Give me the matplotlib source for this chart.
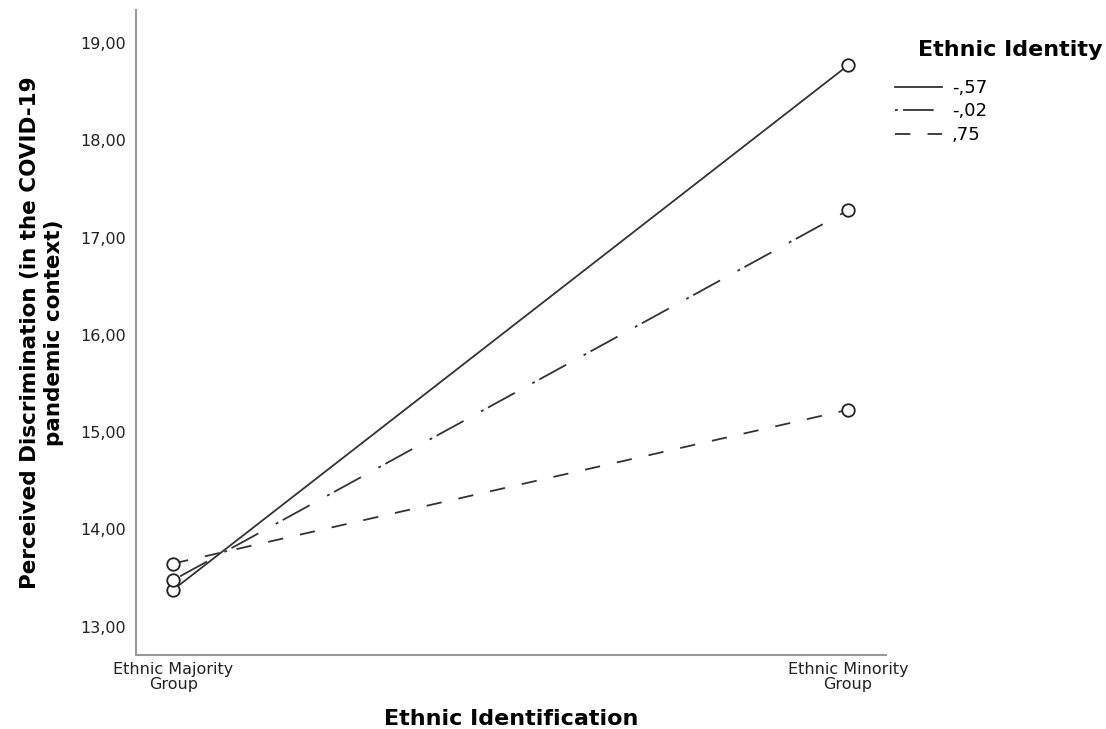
import matplotlib.pyplot as plt

groups = ['Ethnic Majority\nGroup', 'Ethnic Minority\nGroup']
identity_levels = ['-,57', '-,02', ',75']
low_identity = [13.38, 18.77]
mid_identity = [13.48, 17.28]
high_identity = [13.65, 15.23]
yticks = [13, 14, 15, 16, 17, 18, 19]

series = [low_identity, mid_identity, high_identity]
styles = ['-', (0, (1.6, 2.8, 17, 11)), (0, (8.5, 9.5))]

fig = plt.figure(figsize=(11.06, 7.29), dpi=100)
ax = fig.add_axes([0.123, 0.1015, 0.678, 0.885])

x = [0, 1]
for vals, ls, lab in zip(series, styles, identity_levels):
    ax.plot(x, vals, linestyle=ls, color='#333333', linewidth=1.3,
            marker='o', markersize=9, markerfacecolor='white',
            markeredgecolor='#222222', markeredgewidth=1.3, label=lab)

ax.set_xlim(-0.055, 1.056)
ax.set_ylim(12.71, 19.34)
ax.set_yticks(yticks)
ax.set_yticklabels([f'{v},00' for v in yticks], fontsize=11.5, color='#222222')
ax.set_xticks(x)
ax.set_xticklabels(groups, fontsize=11.5, color='#222222', linespacing=1.0)
ax.tick_params(length=0, pad=7)
ax.tick_params(axis='x', pad=5)

for side in ['top', 'right']:
    ax.spines[side].set_visible(False)
for side in ['left', 'bottom']:
    ax.spines[side].set_color('#999999')
    ax.spines[side].set_linewidth(1.5)

ax.set_xlabel('Ethnic Identification', fontsize=16, fontweight='bold', labelpad=12)
ax.set_ylabel('Perceived Discrimination (in the COVID-19\npandemic context)',
              fontsize=15.5, fontweight='bold', linespacing=1.25, labelpad=12)

# legend: title as separate text, entries below
fig.text(0.913, 0.931, 'Ethnic Identity', fontsize=16, fontweight='bold', ha='center', va='center')
leg = ax.legend(loc='upper left', bbox_to_anchor=(895 / 1106, 1 - 79 / 729),
                bbox_transform=fig.transFigure, frameon=False, fontsize=13,
                borderpad=0, borderaxespad=0, handlelength=2.6, handletextpad=0.55,
                labelspacing=0.3)
for h in leg.legend_handles:
    h.set_marker('')

fig.savefig('out.png', dpi=100)
